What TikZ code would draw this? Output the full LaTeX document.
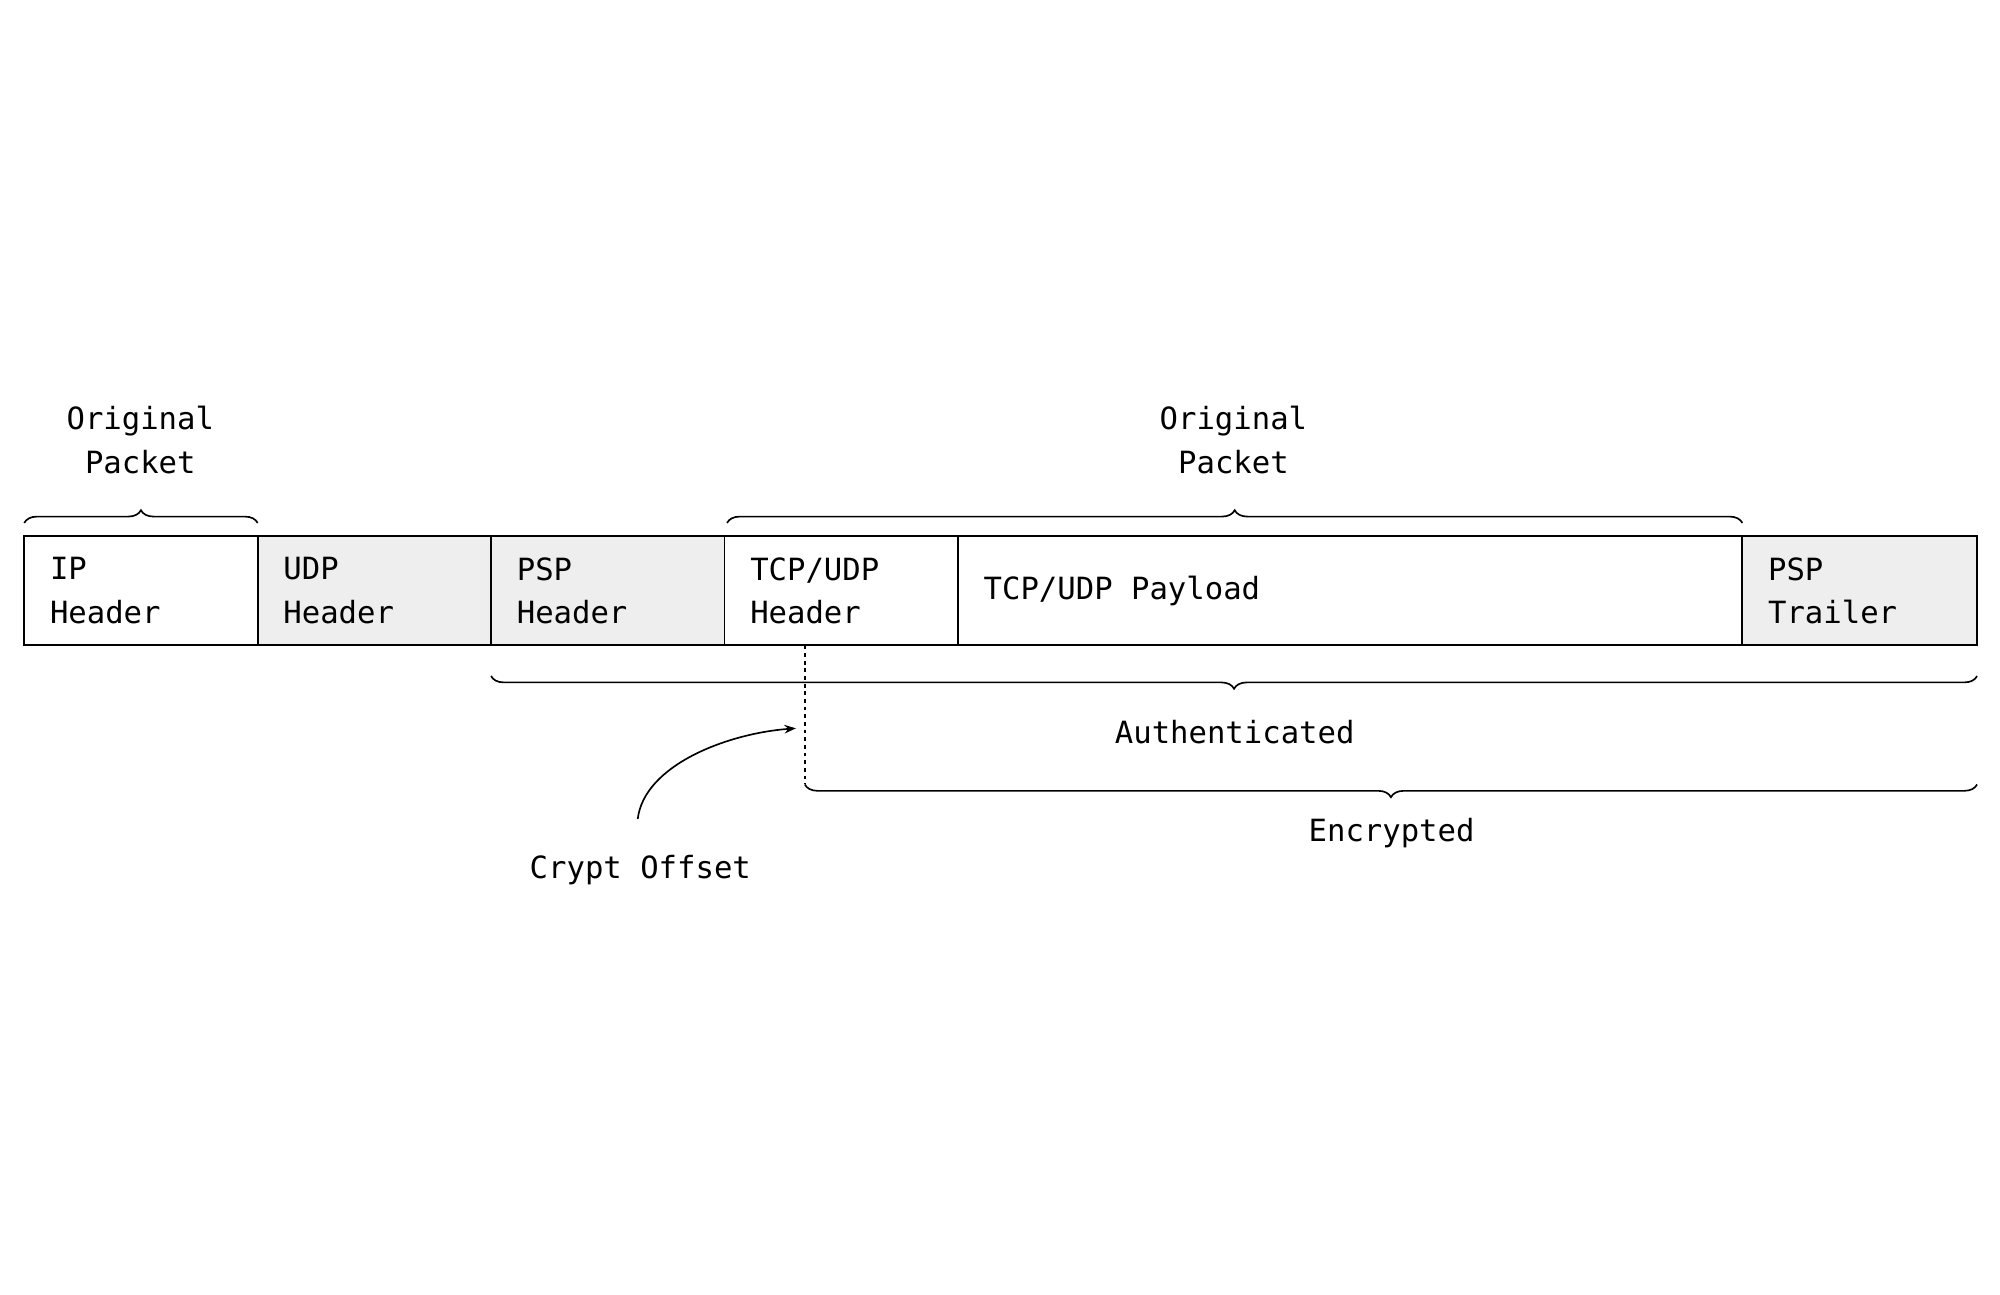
\documentclass[tikz,border=0pt]{standalone}
\usepackage{fontspec}
\setmonofont{DejaVu Sans Mono}
\usetikzlibrary{decorations.pathreplacing,arrows.meta}
\definecolor{cellgray}{HTML}{EEEEEE}
\begin{document}
\begin{tikzpicture}[x=1pt,y=-1pt,
  cell/.style={draw=black,line width=1.5pt},
  lbl/.style={font=\ttfamily\fontsize{24}{34}\selectfont,align=left,anchor=west,inner sep=0},
  clbl/.style={font=\ttfamily\fontsize{24}{34}\selectfont,align=center,inner sep=0},
  brc/.style={decorate,decoration={brace,amplitude=10pt},line width=1.3pt}]
\useasboundingbox (0,0) rectangle (1568,1015);
\draw[cell] (19,420) rectangle (202,506);
\draw[cell,fill=cellgray] (202,420) rectangle (385,506);
\draw[cell,fill=cellgray] (385,420) rectangle (568,506);
\draw[cell] (568,420) rectangle (751,506);
\draw[cell] (751,420) rectangle (1366,506);
\draw[cell,fill=cellgray] (1366,420) rectangle (1550,506);
\node[lbl] (ip) at (39,463) {IP\\Header};
\node[lbl] (udp) at (222,463) {UDP\\Header};
\node[lbl] (psp) at (405,463) {PSP\\Header};
\node[lbl] (tcp) at (588,463) {TCP/UDP\\Header};
\node[lbl] (pay) at (771,463) {TCP/UDP Payload};
\node[lbl] (tr) at (1386,463) {PSP\\Trailer};
\draw[brc] (19,410) -- (202,410);
\node[clbl] (op1) at (110,345) {Original\\Packet};
\draw[brc] (570,410) -- (1366,410);
\node[clbl] (op2) at (967,345) {Original\\Packet};
\draw[brc] (1550,530) -- (385,530);
\node[clbl] (auth) at (968,574) {Authenticated};
\draw[brc] (1550,615) -- (631,615);
\node[clbl] (enc) at (1091,653) {Encrypted};
\coordinate (d1) at (631,506);
\coordinate (d2) at (631,615);
\draw[dashed,line width=1.3pt] (d1) -- (d2);
\node[clbl] (co) at (502,682) {Crypt Offset};
\coordinate (cs) at (500,642);
\coordinate (ce) at (624,571);
\draw[line width=1.3pt,-{Stealth[length=9pt]}] (cs) .. controls (505,600) and (570,575) .. (ce);
\end{tikzpicture}
\end{document}
